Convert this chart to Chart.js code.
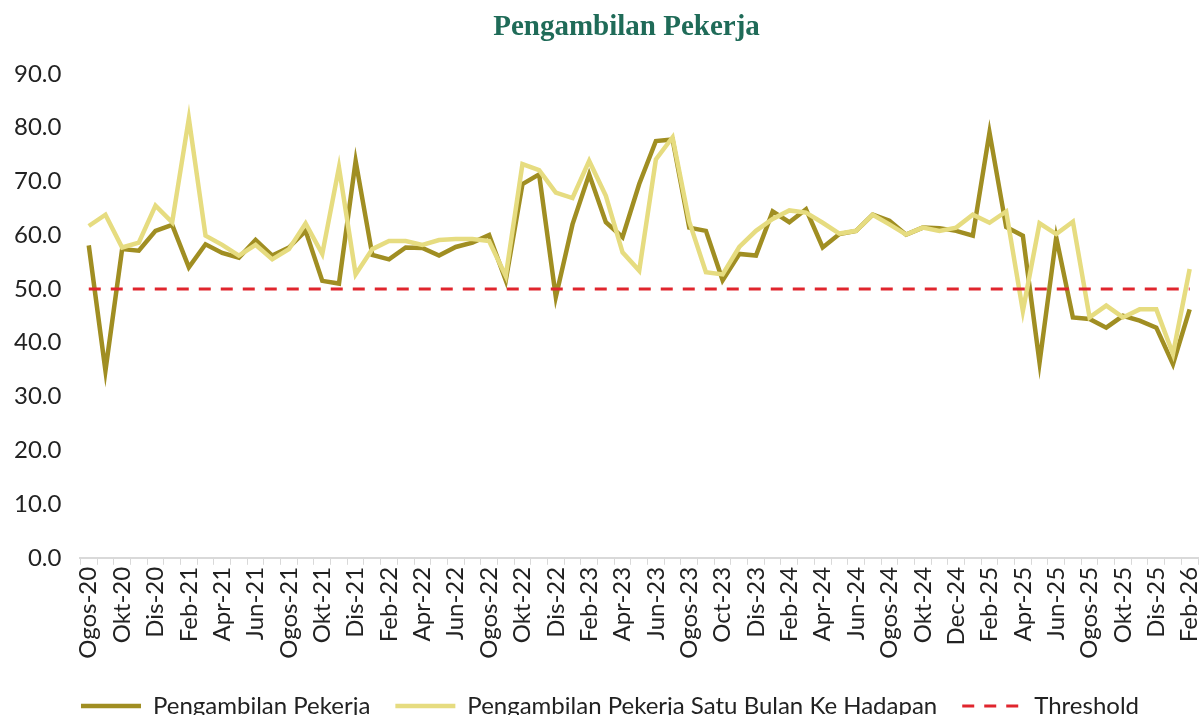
<!DOCTYPE html>
<html>
<head>
<meta charset="utf-8">
<script src="https://cdn.jsdelivr.net/npm/chart.js@4.4.1/dist/chart.umd.min.js"></script>
<style>
  html, body { margin: 0; padding: 0; background: #fff; overflow: hidden; }
  #wrap { width: 1202px; height: 728px; position: relative; }
</style>
</head>
<body>
<div id="wrap"><canvas id="grafPekerja"></canvas></div>
<script>
// Bulan (Ogos-20 hingga Feb-26)
var bulan = [
  'Ogos-20','Sep-20','Okt-20','Nov-20','Dis-20','Jan-21','Feb-21','Mac-21','Apr-21','Mei-21','Jun-21','Jul-21',
  'Ogos-21','Sep-21','Okt-21','Nov-21','Dis-21','Jan-22','Feb-22','Mac-22','Apr-22','Mei-22','Jun-22','Jul-22',
  'Ogos-22','Sep-22','Okt-22','Nov-22','Dis-22','Jan-23','Feb-23','Mac-23','Apr-23','Mei-23','Jun-23','Jul-23',
  'Ogos-23','Sep-23','Oct-23','Nov-23','Dis-23','Jan-24','Feb-24','Mac-24','Apr-24','Mei-24','Jun-24','Jul-24',
  'Ogos-24','Sep-24','Okt-24','Nov-24','Dec-24','Jan-25','Feb-25','Mac-25','Apr-25','Mei-25','Jun-25','Jul-25',
  'Ogos-25','Sep-25','Okt-25','Nov-25','Dis-25','Jan-26','Feb-26'
];

// Pengambilan Pekerja
var pengambilan = [
  58.1, 34.8, 57.4, 57.1, 60.8, 61.9, 54.0, 58.3, 56.7, 55.8, 59.1, 56.2,
  57.7, 60.8, 51.5, 51.0, 73.8, 56.3, 55.5, 57.7, 57.6, 56.2, 57.8, 58.6,
  60.0, 51.6, 69.5, 71.3, 48.5, 62.0, 71.3, 62.4, 59.6, 69.5, 77.5, 77.8,
  61.4, 60.8, 51.6, 56.5, 56.2, 64.4, 62.4, 64.8, 57.7, 60.2, 60.8, 63.8,
  62.7, 60.1, 61.4, 61.3, 60.8, 59.9, 79.1, 61.5, 59.9, 36.3, 59.6, 44.7,
  44.4, 42.8, 45.0, 44.1, 42.8, 36.0, 46.2
];

// Pengambilan Pekerja Satu Bulan Ke Hadapan
var satuBulan = [
  61.7, 63.8, 57.7, 58.6, 65.5, 62.4, 81.7, 59.9, 58.2, 56.2, 58.2, 55.5,
  57.4, 62.2, 56.5, 72.6, 52.7, 57.4, 58.9, 58.9, 58.2, 59.1, 59.3, 59.3,
  58.9, 52.4, 73.2, 72.1, 67.9, 66.9, 73.8, 67.3, 56.8, 53.4, 74.1, 78.2,
  62.5, 53.1, 52.7, 57.8, 60.8, 63.0, 64.6, 64.2, 62.3, 60.3, 60.8, 63.8,
  62.0, 60.1, 61.4, 60.8, 61.4, 63.8, 62.3, 64.4, 45.9, 62.2, 60.2, 62.5,
  44.7, 46.9, 44.7, 46.2, 46.2, 37.9, 53.7
];

var ambang = 50;
var ambangData = bulan.map(function () { return ambang; });

var fontSans = "Lato, 'Open Sans', sans-serif";

// geser tajuk dan petunjuk sedikit ke kanan seperti dalam rajah asal
var geserBlok = {
  id: 'geserBlok',
  afterLayout: function (chart) {
    if (chart.titleBlock) chart.titleBlock.left += 52;
    if (chart.legend) chart.legend.left += 19;
  }
};

var ctx = document.getElementById('grafPekerja').getContext('2d');

var grafPekerja = new Chart(ctx, {
  type: 'line',
  data: {
    labels: bulan,
    datasets: [
      {
        label: 'Pengambilan Pekerja',
        data: pengambilan,
        borderColor: '#a08e22',
        backgroundColor: '#a08e22',
        borderWidth: 4.5,
        pointRadius: 0,
        pointStyle: 'line',
        tension: 0,
        order: 2
      },
      {
        label: 'Pengambilan Pekerja Satu Bulan Ke Hadapan',
        data: satuBulan,
        borderColor: '#e6dc80',
        backgroundColor: '#e6dc80',
        borderWidth: 4.5,
        pointRadius: 0,
        pointStyle: 'line',
        tension: 0,
        order: 1
      },
      {
        label: 'Threshold',
        data: ambangData,
        borderColor: '#e0252d',
        backgroundColor: '#e0252d',
        borderWidth: 3,
        borderDash: [12, 10],
        pointRadius: 0,
        pointStyle: 'line',
        tension: 0,
        order: 0
      }
    ]
  },
  plugins: [geserBlok],
  options: {
    responsive: true,
    maintainAspectRatio: false,
    animation: false,
    layout: { padding: { left: 3, right: 4, top: 0, bottom: 0 } },
    plugins: {
      title: {
        display: true,
        text: 'Pengambilan Pekerja',
        color: '#1f6b58',
        font: { family: "'Liberation Serif', 'DejaVu Serif', serif", size: 29, weight: 'bold' },
        padding: { top: 10, bottom: 29 }
      },
      legend: {
        position: 'bottom',
        title: { display: true, text: '', padding: 0.5, font: { size: 6 } },
        labels: {
          usePointStyle: true,
          pointStyleWidth: 60,
          boxHeight: 24,
          padding: 25,
          color: '#222',
          font: { family: fontSans, size: 24 },
          sort: function (a, b) { return a.datasetIndex - b.datasetIndex; },
          generateLabels: function (chart) {
            var items = Chart.defaults.plugins.legend.labels.generateLabels(chart);
            items.forEach(function (it) {
              var ds = chart.data.datasets[it.datasetIndex];
              it.lineDash = ds.borderDash || [];
              it.strokeStyle = ds.borderColor;
              it.lineWidth = ds.borderWidth;
            });
            return items;
          }
        }
      },
      tooltip: { enabled: false }
    },
    scales: {
      x: {
        offset: true,
        afterFit: function (axis) { axis.paddingRight = 0; },
        grid: {
          display: true,
          drawOnChartArea: false,
          drawTicks: true,
          offset: true,
          tickLength: 7,
          color: '#d9d9d9',
          lineWidth: 1
        },
        border: { display: true, color: '#d9d9d9', width: 2 },
        ticks: {
          autoSkip: false,
          maxRotation: 90,
          minRotation: 90,
          padding: 2,
          color: '#222',
          font: { family: fontSans, size: 24 },
          callback: function (v, i) { return i % 2 === 0 ? bulan[i] : ''; }
        }
      },
      y: {
        min: 0,
        max: 90,
        grid: { display: false },
        border: { display: false },
        ticks: {
          stepSize: 10,
          padding: 11,
          color: '#222',
          font: { family: fontSans, size: 24 },
          callback: function (v) { return v.toFixed(1); }
        }
      }
    }
  }
});
</script>
</body>
</html>
